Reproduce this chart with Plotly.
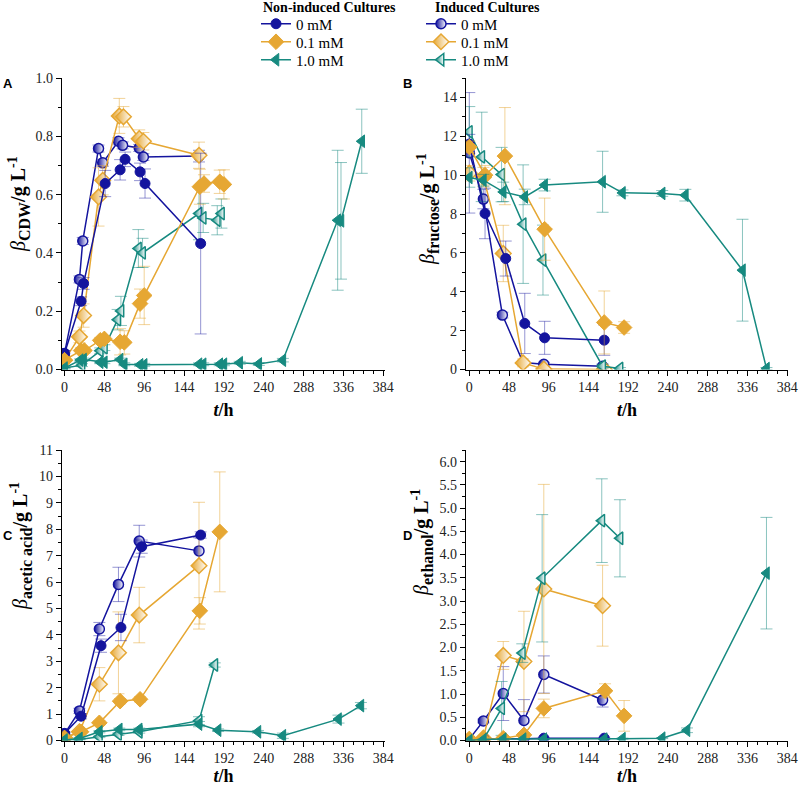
import plotly.graph_objects as go
from plotly.subplots import make_subplots

# ---- data (t in h, value in g/L, error = SD) ----
# panel A: cell dry weight
cdw_t_ni0 = [0, 20, 23, 49, 67, 73, 91, 97, 164]
cdw_y_ni0 = [0.055, 0.234, 0.295, 0.638, 0.685, 0.721, 0.678, 0.638, 0.432]
cdw_e_ni0 = [0.01, 0.015, 0.02, 0.045, 0.035, 0.025, 0.03, 0.05, 0.31]
cdw_t_in0 = [0, 18, 22, 41, 46, 65, 70, 90, 95, 162]
cdw_y_in0 = [0.055, 0.309, 0.441, 0.758, 0.709, 0.783, 0.769, 0.760, 0.729, 0.732]
cdw_e_in0 = [0.01, 0.012, 0.012, 0.012, 0.012, 0.012, 0.012, 0.012, 0.012, 0.02]
cdw_t_ni01 = [0, 20, 24, 43, 48, 67, 72, 91, 96, 163, 168, 187, 192]
cdw_y_ni01 = [0.032, 0.065, 0.065, 0.1, 0.105, 0.095, 0.093, 0.226, 0.254, 0.627, 0.638, 0.644, 0.635]
cdw_e_ni01 = [0.005, 0.01, 0.01, 0.01, 0.01, 0.045, 0.04, 0.05, 0.1, 0.06, 0.03, 0.04, 0.05]
cdw_t_in01 = [0, 18, 23, 41, 46, 66, 71, 90, 95, 162]
cdw_y_in01 = [0.032, 0.112, 0.185, 0.592, 0.649, 0.870, 0.867, 0.792, 0.783, 0.735]
cdw_e_in01 = [0.005, 0.02, 0.04, 0.1, 0.05, 0.06, 0.035, 0.03, 0.03, 0.045]
cdw_t_ni10 = [0, 19, 23, 43, 48, 67, 72, 91, 96, 162, 167, 187, 192, 211, 234, 263, 329, 333, 358]
cdw_y_ni10 = [0.005, 0.032, 0.034, 0.025, 0.025, 0.034, 0.018, 0.016, 0.016, 0.018, 0.018,
              0.018, 0.018, 0.023, 0.019, 0.032, 0.512, 0.51, 0.783]
cdw_e_ni10 = [0.003, 0.005, 0.005, 0.005, 0.005, 0.005, 0.005, 0.005, 0.005, 0.005, 0.005,
              0.005, 0.005, 0.005, 0.005, 0.006, 0.24, 0.2, 0.11]
cdw_t_in10 = [0, 21, 43, 48, 64, 68, 89, 94, 162, 167, 184, 189]
cdw_y_in10 = [0.005, 0.015, 0.064, 0.075, 0.171, 0.201, 0.415, 0.400, 0.535, 0.52, 0.512, 0.535]
cdw_e_in10 = [0.003, 0.005, 0.01, 0.01, 0.035, 0.05, 0.065, 0.05, 0.09, 0.05, 0.05, 0.05]

# panel B: fructose
fru_t_ni0 = [0, 19, 44, 67, 91, 163]
fru_y_ni0 = [11.6, 8.03, 5.71, 2.37, 1.63, 1.51]
fru_e_ni0 = [0.5, 1.3, 0.9, 1.55, 0.85, 0.78]
fru_t_in0 = [0, 17, 40, 65, 90, 161]
fru_y_in0 = [11.15, 8.77, 2.80, 0.36, 0.27, 0.17]
fru_e_in0 = [3.1, 0.5, 0.15, 0.1, 0.1, 0.1]
fru_t_ni01 = [0, 19, 43, 91, 163, 187]
fru_y_ni01 = [11.45, 10.0, 10.98, 7.22, 2.42, 2.16]
fru_e_ni01 = [0.3, 0.5, 2.5, 1.6, 1.62, 0.3]
fru_t_in01 = [0, 17, 41, 65, 90, 163]
fru_y_in01 = [10.1, 9.9, 5.97, 0.34, 0.02, 0.0]
fru_e_in01 = [0.4, 0.5, 1.45, 0.2, 0.05, 0.05]
fru_t_ni10 = [0, 17, 41, 67, 91, 161, 185, 233, 261, 330, 359]
fru_y_ni10 = [9.88, 9.74, 9.14, 8.88, 9.49, 9.66, 9.09, 9.06, 8.97, 5.11, 0.05]
fru_e_ni10 = [0.5, 0.3, 0.5, 0.4, 0.3, 1.57, 0.15, 0.15, 0.3, 2.62, 0.05]
fru_t_in10 = [0, 15, 39, 65, 89, 161, 182]
fru_y_in10 = [12.23, 10.94, 10.03, 7.48, 5.63, 0.17, 0.05]
fru_e_in10 = [1.3, 2.3, 1.4, 3.05, 1.8, 0.1, 0.05]

# panel C: acetic acid
ace_t_ni0 = [0, 20, 44, 68, 93, 164]
ace_y_ni0 = [0.27, 0.92, 3.59, 4.28, 7.34, 7.78]
ace_e_ni0 = [0.05, 0.1, 0.25, 0.5, 0.25, 0.12]
ace_t_in0 = [0, 18, 42, 65, 90, 162]
ace_y_in0 = [0.25, 1.12, 4.22, 5.91, 7.55, 7.18]
ace_e_in0 = [0.05, 0.1, 0.25, 0.65, 0.6, 0.5]
ace_t_ni01 = [0, 20, 42, 67, 91, 163, 187]
ace_y_ni01 = [0.1, 0.33, 0.67, 1.49, 1.56, 4.91, 7.9]
ace_e_ni01 = [0.02, 0.05, 0.08, 0.1, 0.1, 0.5, 2.27]
ace_t_in01 = [0, 18, 42, 65, 90, 162]
ace_y_in01 = [0.1, 0.33, 2.13, 3.32, 4.75, 6.62]
ace_e_in01 = [0.02, 0.05, 0.63, 1.55, 1.05, 2.4]
ace_t_ni10 = [0, 18, 42, 66, 90, 162, 185, 233, 263, 330, 357]
ace_y_ni10 = [0.02, 0.08, 0.33, 0.42, 0.42, 0.62, 0.39, 0.33, 0.18, 0.81, 1.32]
ace_e_ni10 = [0.01, 0.02, 0.04, 0.05, 0.05, 0.1, 0.05, 0.05, 0.1, 0.15, 0.12]
ace_t_in10 = [0, 18, 42, 65, 90, 162, 181]
ace_y_in10 = [0.02, 0.04, 0.14, 0.24, 0.33, 0.75, 2.86]
ace_e_in10 = [0.01, 0.02, 0.03, 0.05, 0.05, 0.15, 0.08]

# panel D: ethanol
eth_t_ni0 = [0, 18, 42, 66, 90, 163]
eth_y_ni0 = [0.03, 0.03, 0.04, 0.04, 0.05, 0.05]
eth_e_ni0 = [0.02, 0.02, 0.02, 0.02, 0.02, 0.02]
eth_t_in0 = [0, 17, 41, 66, 90, 161]
eth_y_in0 = [0.03, 0.42, 1.01, 0.43, 1.42, 0.87]
eth_e_in0 = [0.02, 0.04, 0.58, 0.45, 0.4, 0.15]
eth_t_ni01 = [0, 17, 41, 66, 90, 164, 187]
eth_y_ni01 = [0.03, 0.02, 0.05, 0.12, 0.69, 1.07, 0.53]
eth_e_ni01 = [0.01, 0.01, 0.02, 0.05, 0.2, 0.15, 0.33]
eth_t_in01 = [0, 17, 41, 66, 90, 161]
eth_y_in01 = [0.02, 0.05, 1.83, 1.70, 3.26, 2.90]
eth_e_in01 = [0.01, 0.02, 0.3, 1.08, 2.25, 0.87]
eth_t_ni10 = [0, 17, 41, 65, 90, 163, 185, 233, 263, 359]
eth_y_ni10 = [0.0, 0.02, 0.03, 0.03, 0.03, 0.03, 0.04, 0.05, 0.22, 3.6]
eth_e_ni10 = [0.01, 0.01, 0.01, 0.01, 0.01, 0.01, 0.01, 0.01, 0.05, 1.2]
eth_t_in10 = [0, 17, 39, 64, 88, 160, 182]
eth_y_in10 = [0.0, 0.02, 0.69, 1.88, 3.49, 4.73, 4.35]
eth_e_in10 = [0.01, 0.01, 0.58, 0.2, 1.37, 0.9, 0.83]

conc_labels = ["0 mM", "0.1 mM", "1.0 mM"]
tick_hours = [0, 48, 96, 144, 192, 240, 288, 336, 384]
y_subscripts = ["CDW", "fructose", "acetic acid", "ethanol"]

BLUE = "#14149e"
ORANGE = "#e6a733"
TEAL = "#178a80"
ERR = {BLUE: "rgba(20,20,158,0.45)", ORANGE: "rgba(230,167,51,0.5)", TEAL: "rgba(23,138,128,0.5)"}
COLORS = [BLUE, ORANGE, TEAL]
SYMBOLS = ["circle", "diamond", "triangle-left"]
SIZES = [10, 12, 11]
SERIF = "Liberation Serif"
W, H = 800, 794


def fx(px):
    return px / W


def fy(py):
    return 1 - py / H


panels = [
    (1, 1, [(cdw_t_ni0, cdw_y_ni0, cdw_e_ni0), (cdw_t_ni01, cdw_y_ni01, cdw_e_ni01), (cdw_t_ni10, cdw_y_ni10, cdw_e_ni10)],
           [(cdw_t_in0, cdw_y_in0, cdw_e_in0), (cdw_t_in01, cdw_y_in01, cdw_e_in01), (cdw_t_in10, cdw_y_in10, cdw_e_in10)]),
    (1, 2, [(fru_t_ni0, fru_y_ni0, fru_e_ni0), (fru_t_ni01, fru_y_ni01, fru_e_ni01), (fru_t_ni10, fru_y_ni10, fru_e_ni10)],
           [(fru_t_in0, fru_y_in0, fru_e_in0), (fru_t_in01, fru_y_in01, fru_e_in01), (fru_t_in10, fru_y_in10, fru_e_in10)]),
    (2, 1, [(ace_t_ni0, ace_y_ni0, ace_e_ni0), (ace_t_ni01, ace_y_ni01, ace_e_ni01), (ace_t_ni10, ace_y_ni10, ace_e_ni10)],
           [(ace_t_in0, ace_y_in0, ace_e_in0), (ace_t_in01, ace_y_in01, ace_e_in01), (ace_t_in10, ace_y_in10, ace_e_in10)]),
    (2, 2, [(eth_t_ni0, eth_y_ni0, eth_e_ni0), (eth_t_ni01, eth_y_ni01, eth_e_ni01), (eth_t_ni10, eth_y_ni10, eth_e_ni10)],
           [(eth_t_in0, eth_y_in0, eth_e_in0), (eth_t_in01, eth_y_in01, eth_e_in01), (eth_t_in10, eth_y_in10, eth_e_in10)]),
]

fig = make_subplots(rows=2, cols=2)


def legend_name(i, induced):
    n = i + 1 + (3 if induced else 0)
    return "legend" if n == 1 else f"legend{n}"


def add_series(row, col, t, y, e, i, induced, first):
    c = COLORS[i]
    if induced:
        # half-filled look: colour fading to white across the marker
        marker = dict(symbol=SYMBOLS[i], size=SIZES[i], color=c,
                      gradient=dict(type="horizontal", color="white"),
                      line=dict(color=c, width=1.5))
    else:
        marker = dict(symbol=SYMBOLS[i], size=SIZES[i], color=c, line=dict(color=c, width=1))
    fig.add_trace(go.Scatter(
        x=t, y=y, mode="lines+markers",
        line=dict(color=c, width=1.5),
        marker=marker,
        error_y=dict(type="data", array=e, color=ERR[c], thickness=1, width=6),
        name=conc_labels[i],
        showlegend=first,
        legend=legend_name(i, induced),
    ), row=row, col=col)


for row, col, ni, ind in panels:
    first = (row == 1 and col == 1)
    for i, (t, y, e) in enumerate(ind):
        add_series(row, col, t, y, e, i, True, first)
    for i, (t, y, e) in enumerate(ni):
        add_series(row, col, t, y, e, i, False, first)

# manual domains (pixel positions of the reference)
xdom_left = [fx(62), fx(385)]
xdom_right = [fx(466), fx(788)]
ydom_top = [fy(369.5), fy(78)]
ydom_bot = [fy(740.5), fy(450)]

tickfont = dict(family=SERIF, size=14, color="#222")
axis_common = dict(showline=True, linecolor="black", linewidth=1.3, ticks="outside",
                   ticklen=5, tickwidth=1.2, tickcolor="black", showgrid=False, zeroline=False,
                   automargin=False, tickfont=tickfont, ticklabeloverflow="allow")

xtitle = "<b><i>t</i>/h</b>"
xfont = dict(family=SERIF, size=18, color="black")
xminor = dict(ticks="outside", ticklen=3, dtick=12, tick0=0, tickcolor="black")

fig.update_xaxes(axis_common)
fig.update_xaxes(tickvals=tick_hours, minor=xminor, tickfont=tickfont)
fig.update_xaxes(range=[-3, 386], domain=xdom_left, row=1, col=1,
                 title=dict(text=xtitle, font=xfont, standoff=8))
fig.update_xaxes(range=[-4, 385], domain=xdom_right, row=1, col=2,
                 title=dict(text=xtitle, font=xfont, standoff=8))
fig.update_xaxes(range=[-3, 386], domain=xdom_left, row=2, col=1,
                 title=dict(text=xtitle, font=xfont, standoff=1))
fig.update_xaxes(range=[-4, 385], domain=xdom_right, row=2, col=2,
                 title=dict(text=xtitle, font=xfont, standoff=1))

fig.update_yaxes(axis_common)
fig.update_yaxes(range=[0, 1.0], dtick=0.2, tickformat=".1f", domain=ydom_top, tickfont=tickfont,
                 minor=dict(ticks="outside", ticklen=3, dtick=0.1, tickcolor="black"), row=1, col=1)
fig.update_yaxes(range=[0, 15], dtick=2, domain=ydom_top, tickfont=tickfont,
                 minor=dict(ticks="outside", ticklen=3, dtick=1, tickcolor="black"), row=1, col=2)
fig.update_yaxes(range=[0, 11], dtick=1, domain=ydom_bot, tickfont=tickfont,
                 minor=dict(ticks="outside", ticklen=3, dtick=0.5, tickcolor="black"), row=2, col=1)
fig.update_yaxes(range=[0, 6.25], dtick=0.5, tickformat=".1f", domain=ydom_bot, tickfont=tickfont,
                 minor=dict(ticks="outside", ticklen=3, dtick=0.25, tickcolor="black"), row=2, col=2)

annotations = [
    dict(text="<b>A</b>", x=fx(1), y=fy(83)),
    dict(text="<b>B</b>", x=fx(401), y=fy(83)),
    dict(text="<b>C</b>", x=fx(1), y=fy(535)),
    dict(text="<b>D</b>", x=fx(401), y=fy(535)),
]
for a in annotations:
    a.update(xref="paper", yref="paper", showarrow=False, xanchor="left", yanchor="middle",
             font=dict(family="Liberation Sans", size=13, color="black"))
fig.update_layout(annotations=annotations)

# y-axis titles placed as rotated text, as in the reference they sit off-centre
for sub, (xc, yc) in zip(y_subscripts, [(19, 204), (428, 209), (21, 546), (422, 543)]):
    fig.add_annotation(
        text=(f"<i>β</i><sub><b><span style='font-size:16px'>{sub}</span></b></sub>"
              f"<b>/g L</b><sup><b>-1</b></sup>"),
        x=fx(xc), y=fy(yc), xref="paper", yref="paper", textangle=-90,
        showarrow=False, xanchor="center", yanchor="middle",
        font=dict(family=SERIF, size=20, color="black"))

for text, xc in [("<b>Non-induced Cultures</b>", 329), ("<b>Induced Cultures</b>", 487)]:
    fig.add_annotation(text=text, x=fx(xc), y=fy(8), xref="paper", yref="paper",
                       showarrow=False, xanchor="center", yanchor="middle",
                       font=dict(family=SERIF, size=14, color="black"))

# one legend per entry so the rows can be placed exactly
legends = {}
for induced, x_left in [(False, 256), (True, 421)]:
    for i, y_row in enumerate([24, 42, 60]):
        legends[legend_name(i, induced)] = dict(
            x=fx(x_left), y=fy(y_row), xanchor="left", yanchor="middle",
            bgcolor="rgba(0,0,0,0)", borderwidth=0, itemwidth=30,
            font=dict(family=SERIF, size=15, color="black"))

fig.update_layout(
    width=W, height=H,
    margin=dict(l=0, r=0, t=0, b=0, autoexpand=False),
    plot_bgcolor="white", paper_bgcolor="white",
    font=dict(family=SERIF, color="black"),
    **legends,
)

# drop the browser's default body margin so the figure fills the window
fig.write_html("out.html", config={"displayModeBar": False},
               post_script="document.body.style.margin = '0';")
